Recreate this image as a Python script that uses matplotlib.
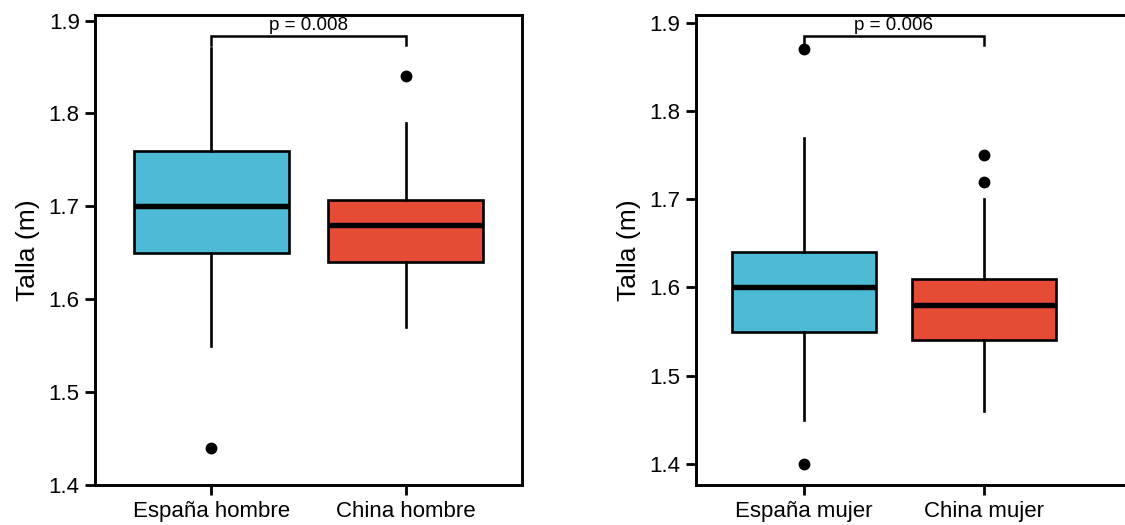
import matplotlib
matplotlib.use("Agg")
import matplotlib.pyplot as plt

plt.rcParams["font.family"] = ["Liberation Sans", "DejaVu Sans"]

BLUE = "#4DBBD5"
RED = "#E64B35"

# left panel (hombres)
men_labels = ["España hombre", "China hombre"]
men_low = [1.55, 1.57]
men_q1 = [1.65, 1.64]
men_med = [1.70, 1.68]
men_q3 = [1.76, 1.707]
men_high = [1.87, 1.79]
men_fliers = [[1.44], [1.84]]
men_p = "p = 0.008"

# right panel (mujeres)
women_labels = ["España mujer", "China mujer"]
women_low = [1.45, 1.46]
women_q1 = [1.55, 1.54]
women_med = [1.60, 1.58]
women_q3 = [1.64, 1.61]
women_high = [1.77, 1.70]
women_fliers = [[1.40, 1.87], [1.72, 1.75]]
women_p = "p = 0.006"


def stats(labels, low, q1, med, q3, high, fliers):
    out = []
    for i in range(len(labels)):
        out.append(dict(label=labels[i], whislo=low[i], q1=q1[i], med=med[i],
                        q3=q3[i], whishi=high[i], fliers=fliers[i]))
    return out


def panel(ax, st, p_text, ylim, xlim, bracket_y):
    bp = ax.bxp(st, positions=[1, 2], widths=0.8, patch_artist=True,
                showcaps=False,
                boxprops=dict(linewidth=1.9, edgecolor="black"),
                medianprops=dict(color="black", linewidth=3.9, solid_capstyle="butt"),
                whiskerprops=dict(color="black", linewidth=1.9),
                flierprops=dict(marker="o", markerfacecolor="black",
                                markeredgecolor="black", markersize=7.5))
    for patch, c in zip(bp["boxes"], [BLUE, RED]):
        patch.set_facecolor(c)
    ax.set_ylim(*ylim)
    ax.set_xlim(*xlim)
    ax.set_yticks([1.4, 1.5, 1.6, 1.7, 1.8, 1.9])
    ax.set_ylabel("Talla (m)", fontsize=19, labelpad=6)
    ax.tick_params(axis="both", labelsize=16, width=2.0, length=7.5, color="black")
    ax.tick_params(axis="x", pad=4)
    for s in ax.spines.values():
        s.set_linewidth(2.1)
    # significance bracket
    top, leg = bracket_y
    ax.plot([1, 1, 2, 2], [leg, top, top, leg], color="black", lw=1.8,
            solid_joinstyle="miter", clip_on=False)
    ax.text(1.5, top + 0.002, p_text, ha="center", va="bottom", fontsize=13.5)


fig = plt.figure(figsize=(11.25, 5.25), dpi=100)
W, H = 1125.0, 525.0

ax1 = fig.add_axes([95 / W, 1 - 485 / H, (522 - 95) / W, (485 - 15) / H])
panel(ax1, stats(men_labels, men_low, men_q1, men_med, men_q3, men_high, men_fliers),
      men_p, (1.4, 1.906), (0.4, 2.6), (1.8835, 1.874))

ax2 = fig.add_axes([695.6 / W, 1 - 485 / H, (1135 - 695.6) / W, (485 - 15) / H])
panel(ax2, stats(women_labels, women_low, women_q1, women_med, women_q3, women_high, women_fliers),
      women_p, (1.376, 1.909), (0.4, 1 + (1135 - 803.7) / 180.0), (1.885, 1.875))

fig.savefig("out.png", dpi=100)
